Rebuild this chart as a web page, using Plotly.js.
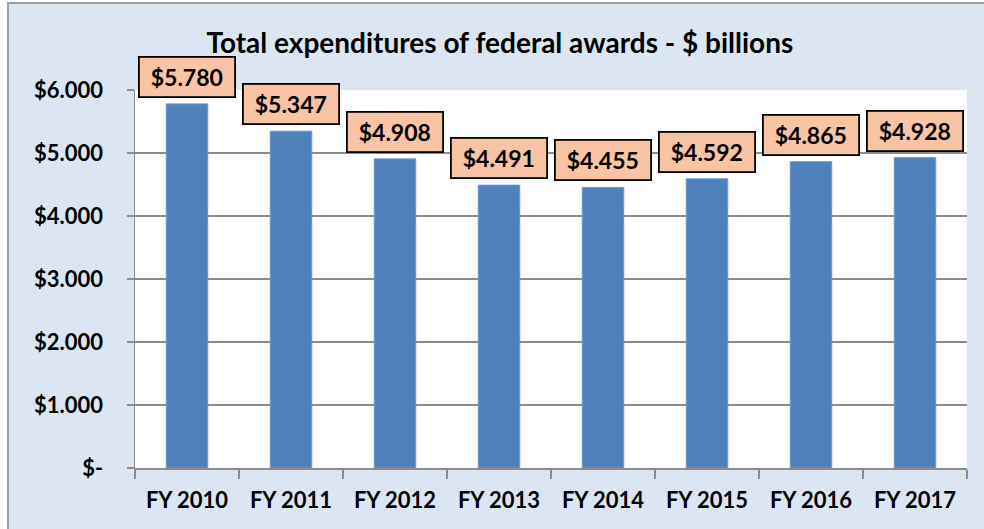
<!DOCTYPE html>
<html>
<head>
<meta charset="utf-8">
<script src="https://cdn.plot.ly/plotly-3.0.1.min.js"></script>
<style>
  html, body { margin: 0; padding: 0; background: #ffffff; overflow: hidden; width: 984px; height: 529px; }
  #frame { position: absolute; left: 7px; top: 2px; width: 1300px; height: 800px;
           background: #dce6f2; border-left: 2px solid #a0a0a0; border-top: 2px solid #a0a0a0; box-sizing: border-box; }
  #chart { position: absolute; left: 0; top: 0; width: 984px; height: 529px; }
</style>
</head>
<body>
<div id="frame"></div>
<div id="chart"></div>
<script>
const categories = ["FY 2010", "FY 2011", "FY 2012", "FY 2013", "FY 2014", "FY 2015", "FY 2016", "FY 2017"];
const values = [5.780, 5.347, 4.908, 4.491, 4.455, 4.592, 4.865, 4.928];
const labels = ["$5.780", "$5.347", "$4.908", "$4.491", "$4.455", "$4.592", "$4.865", "$4.928"];
const yTickVals = [0, 1, 2, 3, 4, 5, 6];
const yTickText = ["$-", "$1.000", "$2.000", "$3.000", "$4.000", "$5.000", "$6.000"];

const FONT = "Lato, 'Open Sans', sans-serif";

const trace = {
  type: "bar",
  x: categories,
  y: values,
  marker: { color: "#4f81bd", line: { color: "#6f9ad0", width: 0.8 } },
  width: 0.4,
  hoverinfo: "skip"
};

const annotations = categories.map((c, i) => ({
  x: c, y: values[i], xref: "x", yref: "y",
  text: "<b>" + labels[i] + "</b>",
  showarrow: false,
  yanchor: "bottom",
  yshift: 6,
  font: { family: FONT, size: 23, color: "#000000" },
  bgcolor: "#f8c4a4",
  bordercolor: "#000000",
  borderwidth: 1.8,
  borderpad: 2,
  width: 90,
  height: 34
}));

const layout = {
  width: 984, height: 529,
  paper_bgcolor: "rgba(0,0,0,0)",
  plot_bgcolor: "#ffffff",
  margin: { l: 135, r: 17, t: 90, b: 61 },
  title: {
    text: "<b>Total expenditures of federal awards - $ billions</b>",
    font: { family: FONT, size: 28, color: "#000000" },
    x: 0.508, xanchor: "center",
    y: 0.918, yanchor: "middle", yref: "container"
  },
  showlegend: false,
  bargap: 0.6,
  xaxis: {
    type: "category",
    tickson: "boundaries",
    ticks: "outside", ticklen: 9, tickwidth: 1.5, tickcolor: "#8c8c8c",
    showline: true, linecolor: "#8c8c8c", linewidth: 1.5,
    showgrid: false,
    tickfont: { family: FONT, size: 22, color: "#000000", weight: "bold" },
    ticklabelstandoff: 12,
    fixedrange: true
  },
  yaxis: {
    range: [0, 6],
    tickvals: yTickVals, ticktext: yTickText,
    ticks: "outside", ticklen: 7, tickwidth: 1.5, tickcolor: "#8c8c8c",
    showline: true, linecolor: "#8c8c8c", linewidth: 1.5,
    showgrid: true, gridcolor: "#8c8c8c", gridwidth: 1.5,
    zeroline: false,
    tickfont: { family: FONT, size: 22, color: "#000000", weight: "bold" },
    ticklabelstandoff: 19,
    fixedrange: true
  },
  annotations: annotations
};

Plotly.newPlot("chart", [trace], layout, { displayModeBar: false, staticPlot: true });
</script>
</body>
</html>
